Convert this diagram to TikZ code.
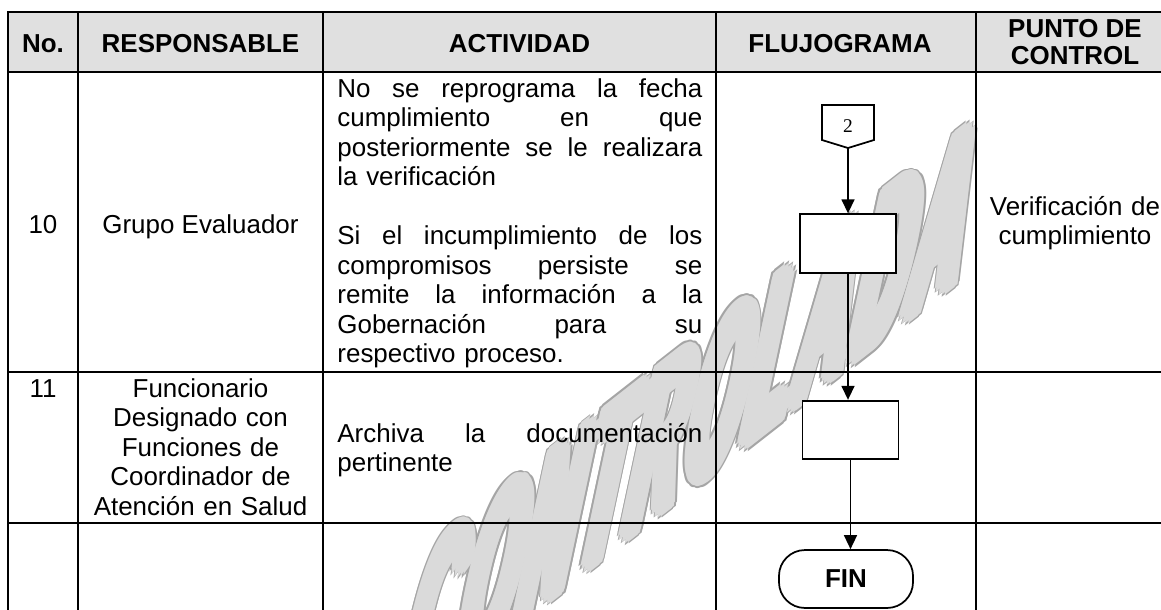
\documentclass[tikz,border=0pt]{standalone}
\usepackage{fontspec}
\setmainfont{Liberation Sans}
\newfontfamily\tnr{Liberation Serif}
\newfontfamily\wmfont[LetterSpace=10]{Liberation Sans Bold}
\usetikzlibrary{arrows.meta,calc}
\definecolor{hdrgray}{RGB}{224,224,224}
\definecolor{wmfill}{RGB}{218,218,218}
\definecolor{wmline}{RGB}{165,165,165}
\newlength\actw
\setlength\actw{168.8pt}
\newcommand{\jl}[1]{\leavevmode\hbox to \actw{#1}}
\newcommand{\tops}{\rule{0pt}{12pt}}
\newcommand{\wmtext}{\wmfont\fontsize{50}{50}\selectfont CONTROLADA}
\begin{document}
\begin{tikzpicture}[x=0.4625pt,y=-0.4625pt,
  grid/.style={line width=1.1pt, line cap=rect},
  hdr/.style={font=\fontsize{12}{12.5}\selectfont\bfseries, inner sep=0pt, anchor=base},
  txt/.style={font=\fontsize{12}{13.64}\selectfont, inner sep=0pt},
  para/.style={txt, text width=\actw, align=left, anchor=north west},
  proc/.style={draw, line width=0.8pt, fill=white, minimum width=44.4pt, minimum height=27.1pt, inner sep=0pt},
  term/.style={draw, line width=0.8pt, fill=white, rounded corners=12pt, minimum width=62pt, minimum height=26.8pt, inner sep=0pt, font=\fontsize{12}{14}\selectfont\bfseries},
  flow/.style={line width=0.8pt, -{Triangle[length=6.5pt,width=6pt]}},
  wmshape/.style={cm={0.646,0.505,0.478,2.249,(0,0)}}
]
\useasboundingbox (0,0) rectangle (1161,609);
\fill[hdrgray] (8,12) rectangle (1161,72);
% watermark (dilated outline, then fill)
\foreach \a in {0,30,...,330}{
  \begin{scope}[shift={($(692,415)+(\a:3.8pt)$)}, wmshape]
    \node[transform shape, inner sep=0pt, text=wmline] at (0,0) {\wmtext};
  \end{scope}}
\foreach \a in {0,30,...,330}{
  \begin{scope}[shift={($(692,415)+(\a:3.0pt)$)}, wmshape]
    \node[transform shape, inner sep=0pt, text=wmfill] at (0,0) {\wmtext};
  \end{scope}}
\begin{scope}[shift={(692,415)}, wmshape]
  \node[transform shape, inner sep=0pt, text=wmfill] (wm) at (0,0) {\wmtext};
\end{scope}
% grid
\draw[grid] (8,12) -- (1161,12) (8,72) -- (1161,72) (8,372) -- (1161,372) (8,523) -- (1161,523);
\draw[grid] (8,12) -- (8,609) (78,12) -- (78,609) (323,12) -- (323,609) (716,12) -- (716,609) (976,12) -- (976,609);
% headers
\node[hdr] (hno) at (43,52) {No.};
\node[hdr] (hresp) at (200.5,52) {RESPONSABLE};
\node[hdr] (hact) at (519.5,52) {ACTIVIDAD};
\node[hdr] (hflu) at (840,52) {FLUJOGRAMA};
\node[hdr] (hpc1) at (1075,37) {PUNTO DE};
\node[hdr] (hpc2) at (1075,64) {CONTROL};
% row 10
\node[txt, anchor=base] (n10) at (43,233) {10};
\node[txt, anchor=base] (r10) at (200.5,233) {Grupo Evaluador};
\node[para] (a10) at (337,70.75) {\tops\jl{No\hfill se\hfill reprograma\hfill la\hfill fecha}\\
\jl{cumplimiento\hfill en\hfill que}\\
\jl{posteriormente\hfill se\hfill le\hfill realizara}\\
la verificación\\
\mbox{}\\
\jl{Si\hfill el\hfill incumplimiento\hfill de\hfill los}\\
\jl{compromisos\hfill persiste\hfill se}\\
\jl{remite\hfill la\hfill información\hfill a\hfill la}\\
\jl{Gobernación\hfill para\hfill su}\\
respectivo proceso.};
\node[txt, text width=90pt, align=center, anchor=north] (pc10) at (1075,189.05) {\tops Verificación de\\ cumplimiento};
% row 11
\node[txt, anchor=base] (n11) at (43,397) {11};
\node[txt, text width=115pt, align=center, anchor=north] (r11) at (200.5,371.05) {\tops Funcionario\\ Designado con\\ Funciones de\\ Coordinador de\\ Atención en Salud};
\node[para] (a11) at (337,415.75) {\tops\jl{Archiva\hfill la\hfill documentación}\\ pertinente};
% flowchart
\coordinate (c2c) at (848,126.5);
\draw[line width=0.8pt, fill=white] ($(c2c)+(-26,-21.5)$) -- ($(c2c)+(26,-21.5)$) -- ($(c2c)+(26,13.5)$) -- ($(c2c)+(0,21.5)$) -- ($(c2c)+(-26,13.5)$) -- cycle;
\node[minimum width=24.05pt, minimum height=19.9pt, inner sep=0pt, font=\tnr\fontsize{9}{10}\selectfont] (c2) at (c2c) {2};
\node[proc] (r1) at (848,243.5) {};
\node[proc] (r2) at (850.5,430) {};
\node[term] (fin) at (846,579) {FIN};
\draw[flow] (c2.south) -- (c2.south |- r1.north);
\draw[flow] (r1.south) -- (r1.south |- r2.north);
\draw[flow] (r2.south) -- (r2.south |- fin.north);
\end{tikzpicture}
\end{document}
